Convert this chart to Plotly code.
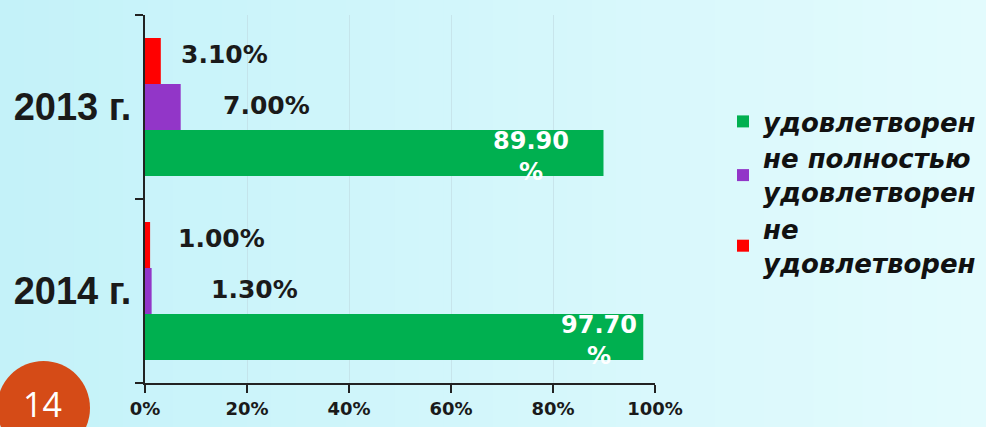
import plotly.graph_objects as go

# ---- data ----
years = ["2013 г.", "2014 г."]
satisfied = [89.9, 97.7]          # удовлетворен
partly = [7.0, 1.3]               # не полностью удовлетворен
unsatisfied = [3.1, 1.0]          # не удовлетворен
series_names = ["удовлетворен", "не полностью<br>удовлетворен", "не<br>удовлетворен"]
tick_vals = [0, 20, 40, 60, 80, 100]
tick_text = ["%d%%" % v for v in tick_vals]
slide_number = "14"

# ---- geometry (pixels) ----
W, H = 986, 427
L, R, T, B = 145, 331, 15, 44
PW, PH = W - L - R, H - T - B


def px(x):
    return (x - L) / PW


def py(y):
    return 1 - (y - T) / PH


GREEN, PURPLE, RED = "#00b050", "#9236c8", "#ff0000"
ARIAL = "Liberation Sans, Arial, sans-serif"
WIDE = "DejaVu Sans, Verdana, sans-serif"

fig = go.Figure()
for vals, name, col in [(satisfied, series_names[0], GREEN),
                        (partly, series_names[1], PURPLE),
                        (unsatisfied, series_names[2], RED)]:
    fig.add_trace(go.Bar(y=years, x=vals, name=name, orientation="h",
                         marker=dict(color=col, line=dict(width=0)),
                         hoverinfo="x+y"))

# background gradient strips
shapes = []
N = 40
c0, c1 = (196, 242, 249), (227, 251, 253)
for i in range(N):
    t = i / (N - 1)
    c = tuple(round(c0[k] + (c1[k] - c0[k]) * t) for k in range(3))
    shapes.append(dict(type="rect", xref="paper", yref="paper", layer="below",
                       x0=px(W * i / N), x1=px(W * (i + 1) / N + 1),
                       y0=py(H), y1=py(0), line=dict(width=0),
                       fillcolor="rgb(%d,%d,%d)" % c))
# slide number circle
shapes.append(dict(type="circle", xref="paper", yref="paper", layer="above",
                   x0=px(-3), x1=px(90), y0=py(455), y1=py(361),
                   line=dict(width=0), fillcolor="#d54b17"))

annotations = []
label_font = dict(family=WIDE, size=25, color="#1a1a1a", weight="bold")
small_shift = {"red": [18, 26], "purple": [40, 57]}
for i, y in enumerate(years):
    annotations.append(dict(x=unsatisfied[i], y=y, xref="x", yref="y",
                            text="%.2f%%" % unsatisfied[i], showarrow=False,
                            xanchor="left", xshift=small_shift["red"][i], yshift=53,
                            font=label_font))
    annotations.append(dict(x=partly[i], y=y, xref="x", yref="y",
                            text="%.2f%%" % partly[i], showarrow=False,
                            xanchor="left", xshift=small_shift["purple"][i], yshift=2,
                            font=label_font))
green_shift = [-72, -44]
for i, y in enumerate(years):
    annotations.append(dict(x=satisfied[i], y=y, xref="x", yref="y",
                            text="%.2f<br>%%" % satisfied[i], showarrow=False,
                            xanchor="center", xshift=green_shift[i], yshift=-49,
                            font=dict(family=WIDE, size=24, color="white", weight="bold")))
annotations.append(dict(x=px(42), y=py(404), xref="paper", yref="paper",
                        xanchor="center", yanchor="middle",
                        text=slide_number, showarrow=False,
                        font=dict(family="Open Sans, sans-serif", size=34, color="white")))

fig.update_layout(
    width=W, height=H,
    margin=dict(l=L, r=R, t=T, b=B, autoexpand=False),
    paper_bgcolor="#d4f6fb", plot_bgcolor="rgba(0,0,0,0)",
    barmode="group", bargap=0.25, bargroupgap=0,
    font=dict(family=ARIAL, color="#1a1a1a"),
    shapes=shapes, annotations=annotations,
    showlegend=True,
    legend=dict(x=px(723), y=py(98), xanchor="left", yanchor="top",
                bgcolor="rgba(0,0,0,0)", tracegroupgap=0,
                font=dict(family=WIDE, size=26, color="#111", style="italic", weight="bold")),
    xaxis=dict(range=[0, 100], tickvals=tick_vals, ticktext=tick_text,
               showgrid=True, gridcolor="rgba(190,215,222,0.55)", gridwidth=1,
               zeroline=False, showline=True, linecolor="#222", linewidth=2,
               ticks="outside", ticklen=8, tickwidth=2, tickcolor="#222",
               tickfont=dict(family=WIDE, size=18, color="#1a1a1a", weight="bold"),
               automargin=False, fixedrange=True),
    yaxis=dict(type="category", categoryorder="array", categoryarray=years[::-1],
               showline=True, linecolor="#222", linewidth=2,
               ticks="outside", ticklen=8, tickwidth=2, tickcolor="#222",
               tickson="boundaries", showgrid=False,
               tickfont=dict(family=ARIAL, size=38, color="#1a1a1a", weight="bold"),
               ticklabelstandoff=4, automargin=False, fixedrange=True),
)

fig.write_html("out.html", config={"displayModeBar": False},
               post_script="document.body.style.margin='0';document.body.style.overflow='hidden';")
